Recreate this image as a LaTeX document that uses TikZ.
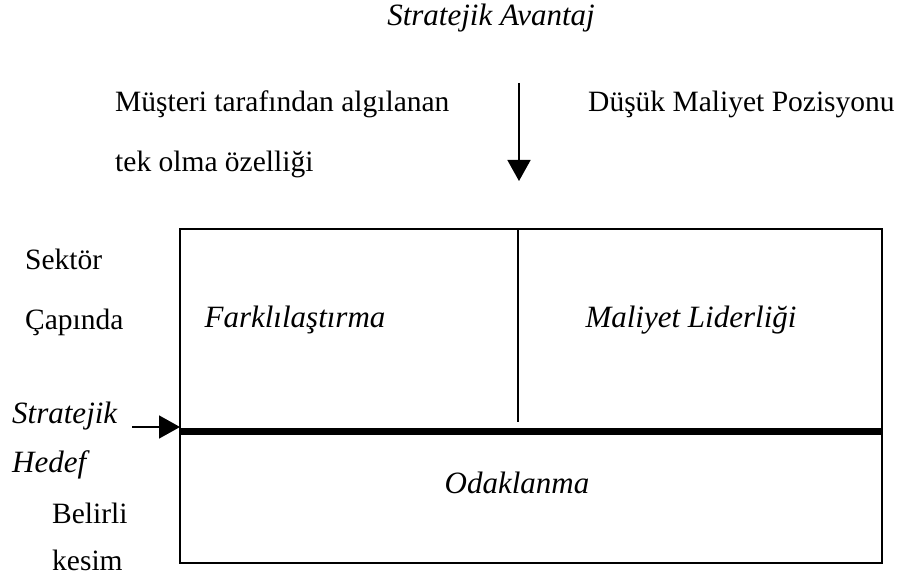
\documentclass[tikz,border=0pt]{standalone}
\usepackage{fontspec}
\setmainfont{Liberation Serif}[ItalicFont=Liberation Serif Italic]
\usepackage{tikz}
\usetikzlibrary{
	positioning,
	arrows.meta
}

\begin{document}
\begin{tikzpicture}[x=1pt,y=-1pt,
	txt/.style={anchor=base west,inner sep=0pt,font=\fontsize{29.5}{34}\selectfont},
	itxt/.style={txt,font=\fontsize{31}{36}\selectfont\itshape},
	pointer/.style={line width=1.6pt,-{Triangle[length=21pt,width=23pt]}}
]
	\useasboundingbox (0,0) rectangle (900,585);
	\draw
		node [itxt,anchor=base]     (adv)  at (491,26)  {Stratejik Avantaj}
		node [txt]                  (uniq) at (115,112) {Müşteri tarafından algılanan}
		node [txt]                  (uniq2) at (115,172) {tek olma özelliği}
		node [txt]                  (low)  at (588,112) {Düşük Maliyet Pozisyonu}
		node [txt]                  (wide) at (25,270)  {Sektör}
		node [txt]                  (wide2) at (25,330) {Çapında}
		node [itxt]                 (tgt)  at (12,423)  {Stratejik}
		node [itxt]                 (tgt2) at (12,472)  {Hedef}
		node [txt]                  (seg)  at (52,523)  {Belirli}
		node [txt]                  (seg2) at (52,570)  {kesim}
		node [itxt,anchor=base]     (diff) at (295,328) {Farklılaştırma}
		node [itxt,anchor=base]     (lead) at (691,328) {Maliyet Liderliği}
		node [itxt,anchor=base]     (foc)  at (517,493) {Odaklanma}
	;
	% frame
	\coordinate (nw) at (180,229);
	\coordinate (se) at (882,563);
	\draw[line width=1.6pt] (nw) rectangle (se);
	\coordinate (divtop) at (518,229);
	\coordinate (divbot) at (518,422);
	\draw[line width=1.6pt] (divtop) -- (divbot);
	\coordinate (barl) at (180,431);
	\coordinate (barr) at (882,431);
	\draw[line width=7pt] (barl) -- (barr);
	% arrows
	\coordinate (advs) at (519,83);
	\coordinate (adve) at (519,181);
	\draw[pointer] (advs) -- (adve);
	\coordinate (tgts) at (132,427);
	\coordinate (tgte) at (180,427);
	\draw[pointer] (tgts) -- (tgte);
\end{tikzpicture}
\end{document}
